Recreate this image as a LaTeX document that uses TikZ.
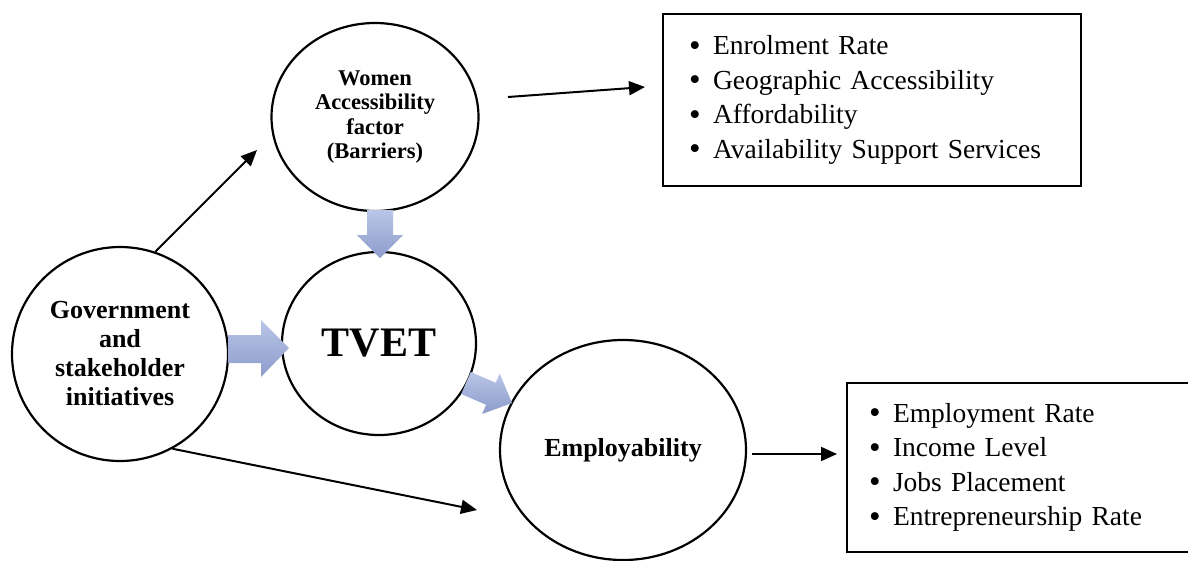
\documentclass[tikz,border=0pt]{standalone}
\usepackage{fontspec}
\setmainfont{Liberation Serif}
\usetikzlibrary{shapes.geometric,arrows.meta}
\definecolor{flowtop}{RGB}{186,198,231}
\definecolor{flowbot}{RGB}{140,155,203}
\newcommand\listdot{\makebox[24pt][l]{\raisebox{-0.05em}{\scalebox{1.2}{•}}}}
\begin{document}
\begin{tikzpicture}[x=1pt,y=-1pt,
  bubble/.style={ellipse,draw,line width=2.2pt,inner sep=0pt,align=center},
  listbox/.style={draw,line width=2pt,rectangle,align=left,inner ysep=0pt,
    anchor=north west,font=\fontsize{27.5}{34.5}\selectfont},
  link/.style={line width=2pt,-{Triangle[length=16pt,width=14pt]}},
  flow/.style={top color=flowtop,bottom color=flowbot,draw=none}]
\clip (0,0) rectangle (1188,560);

% concept bubbles
\node[bubble,minimum width=216pt,minimum height=214pt,
  font=\bfseries\fontsize{26}{29}\selectfont] (gov) at (120,354)
  {Government\\and\\stakeholder\\initiatives};
\node[bubble,minimum width=207pt,minimum height=188pt,
  font=\bfseries\fontsize{22.5}{24.5}\selectfont] (women) at (375,117)
  {Women\\Accessibility\\factor\\(Barriers)};
\node[bubble,minimum width=194pt,minimum height=183pt,
  font=\bfseries\fontsize{42}{46}\selectfont] (tvet) at (379,343.5) {TVET};
\node[bubble,minimum width=246pt,minimum height=220pt,
  font=\bfseries\fontsize{26}{29}\selectfont] (emp) at (623,450) {Employability};

% indicator lists
\node[listbox,minimum width=418pt,minimum height=172pt,inner xsep=26pt,
  text width=366pt] (access) at (662,13)
  {\listdot Enrolment Rate\\\listdot Geographic Accessibility\\
   \listdot Affordability\\\listdot Availability Support Services};
\node[listbox,minimum width=360pt,minimum height=169pt,inner xsep=22pt,
  text width=316pt] (outcome) at (846,382)
  {\listdot Employment Rate\\\listdot Income Level\\
   \listdot Jobs Placement\\\listdot Entrepreneurship Rate};

% free ends of the thin connectors
\coordinate (women-in) at (257,150);
\coordinate (women-out) at (508,97);
\coordinate (access-in) at (645,87);
\coordinate (emp-in) at (477,510);
\coordinate (emp-out) at (752,454);
\coordinate (outcome-in) at (837,454);

\draw[link] (gov.71) -- (women-in);
\draw[link] (gov.-61) -- (emp-in);
\draw[link] (women-out) -- (access-in);
\draw[link] (emp-out) -- (outcome-in);

% shaded block arrows into and out of TVET
\path[flow] (228,335) -- (261,335) -- (261,320) -- (289,348) -- (261,377)
  -- (261,363) -- (228,363) -- cycle;
\path[flow] (367,210) -- (393,210) -- (393,235) -- (403,235) -- (380,258)
  -- (357,235) -- (367,235) -- cycle;
\path[flow] (470.8,372.0) -- (495.7,382.8) -- (499.7,373.6) -- (512,403)
  -- (482.1,414.0) -- (486.1,404.8) -- (461.2,394.0) -- cycle;
\end{tikzpicture}
\end{document}
